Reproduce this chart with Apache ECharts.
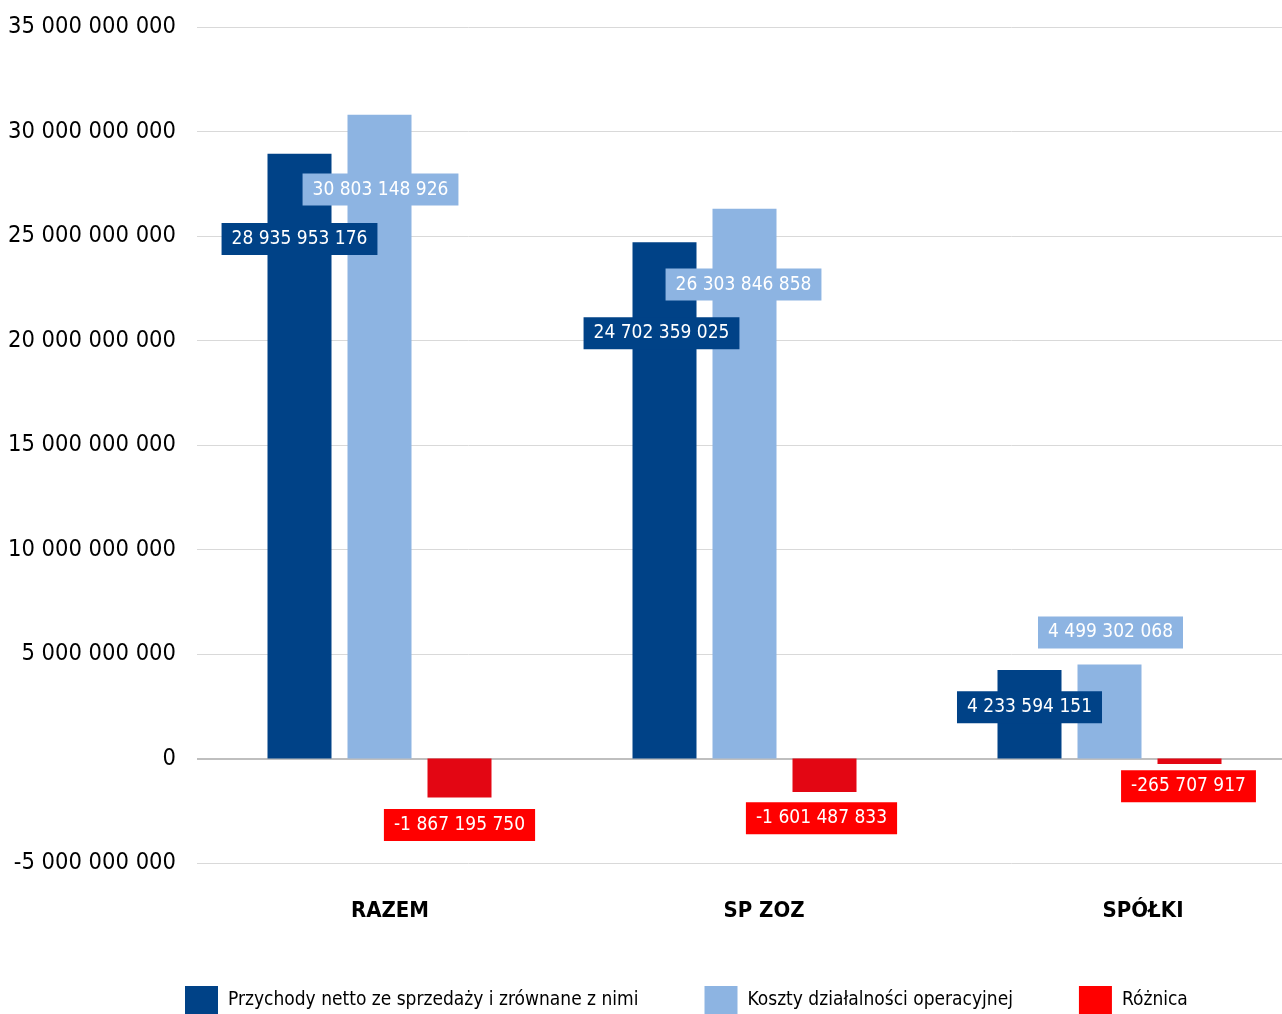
<!DOCTYPE html>
<html>
<head>
<meta charset="utf-8">
<script src="https://cdn.jsdelivr.net/npm/echarts@6/dist/echarts.min.js"></script>
<style>
  html, body { margin: 0; padding: 0; background: #fff; }
  #chart { width: 1282px; height: 1014px; }
</style>
</head>
<body>
<div id="chart"></div>
<script>
// Categories and series values
const categories = ['RAZEM', 'SP ZOZ', 'SPÓŁKI'];
const seriesNames = [
  'Przychody netto ze sprzedaży i zrównane z nimi',
  'Koszty działalności operacyjnej',
  'Różnica'
];
const przychody = [28935953176, 24702359025, 4233594151];
const koszty = [30803148926, 26303846858, 4499302068];
const roznica = [-1867195750, -1601487833, -265707917];

// Label placement (pixel offsets from bar centre)
const przychodyLabelOffsets = [[0, -217], [-3, -167], [0, -7]];
const kosztyLabelOffsets = [[1, -247], [-1, -199], [1, -79]];
const roznicaLabelOffsets = [[0, 47], [-3, 43], [-1, 25]];
// Horizontal nudge for category labels (rich padding-left)
const categoryNudge = [21, 39, 67];

const FONT = '"DejaVu Sans Condensed", "Liberation Sans Narrow", "Roboto", sans-serif';
const colors = ['#004287', '#8DB4E2', '#E30613'];
const labelBg = ['#004287', '#8DB4E2', '#FF0000'];
const legendColors = ['#004287', '#8DB4E2', '#FF0000'];

function fmt(v) {
  const s = Math.abs(Math.round(v)).toString().replace(/\B(?=(\d{3})+(?!\d))/g, ' ');
  return (v < 0 ? '-' : '') + s;
}

function buildData(values, offsets) {
  return values.map((v, i) => ({
    value: v,
    label: { offset: offsets[i] }
  }));
}

function labelStyle(bg) {
  return {
    show: true,
    position: 'inside',
    formatter: p => fmt(p.value),
    color: '#fff',
    fontFamily: FONT,
    fontSize: 19,
    lineHeight: 22,
    backgroundColor: bg,
    padding: [5, 10, 5, 10]
  };
}

const rich = {};
categories.forEach((c, i) => {
  rich['c' + i] = {
    fontFamily: FONT,
    fontSize: 22,
    fontWeight: 'bold',
    color: '#000',
    padding: [0, 0, 0, categoryNudge[i]]
  };
});

const chart = echarts.init(document.getElementById('chart'), null, { renderer: 'canvas' });
chart.setOption({
  animation: false,
  backgroundColor: '#fff',
  grid: {
    left: 197, right: -10, top: 27, bottom: 151,
    containLabel: false,
    outerBoundsMode: 'none'
  },
  legend: {
    top: 986,
    left: 185,
    padding: 0,
    itemWidth: 33,
    itemHeight: 28,
    itemGap: 66,
    icon: 'rect',
    textStyle: { fontFamily: FONT, fontSize: 19, color: '#000', padding: [0, 0, 0, 5] },
    data: seriesNames.map((n, i) => ({ name: n, itemStyle: { color: legendColors[i] } }))
  },
  xAxis: {
    type: 'category',
    data: categories,
    axisLine: { show: false, onZero: false },
    axisTick: { show: false },
    axisLabel: {
      margin: 37,
      formatter: (v, i) => '{c' + i + '|' + v + '}',
      rich: rich
    }
  },
  yAxis: {
    type: 'value',
    min: -5000000000,
    max: 35000000000,
    interval: 5000000000,
    axisLine: { show: false },
    axisTick: { show: false },
    splitLine: { lineStyle: { color: '#D9D9D9', width: 1 } },
    axisLabel: {
      margin: 21,
      formatter: v => fmt(v),
      fontFamily: FONT,
      fontSize: 23.5,
      color: '#000'
    }
  },
  series: [
    {
      name: seriesNames[0],
      type: 'bar',
      barWidth: 64,
      barGap: '25%',
      itemStyle: { color: colors[0] },
      label: labelStyle(labelBg[0]),
      data: buildData(przychody, przychodyLabelOffsets),
      z: 2
    },
    {
      name: seriesNames[1],
      type: 'bar',
      barWidth: 64,
      barGap: '25%',
      itemStyle: { color: colors[1] },
      label: labelStyle(labelBg[1]),
      data: buildData(koszty, kosztyLabelOffsets),
      z: 2
    },
    {
      name: seriesNames[2],
      type: 'bar',
      barWidth: 64,
      barGap: '25%',
      itemStyle: { color: colors[2] },
      label: labelStyle(labelBg[2]),
      data: buildData(roznica, roznicaLabelOffsets),
      z: 2,
      markLine: {
        silent: true,
        symbol: 'none',
        label: { show: false },
        lineStyle: { color: '#BFBFBF', width: 2, type: 'solid' },
        data: [{ yAxis: 0 }],
        z: 1
      }
    }
  ]
});
</script>
</body>
</html>
